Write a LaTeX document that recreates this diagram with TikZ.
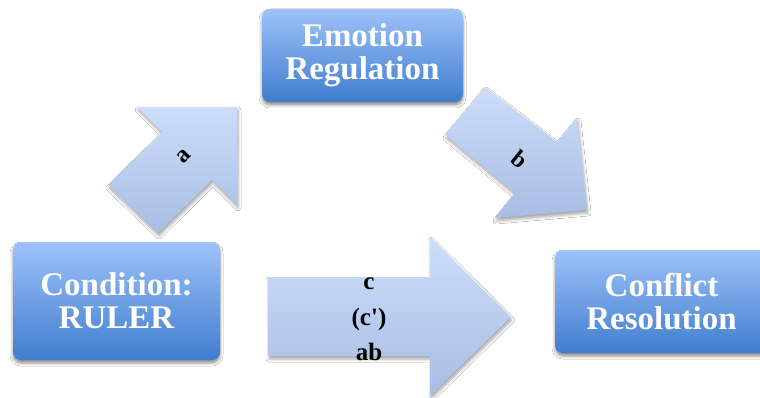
\documentclass[tikz,border=0pt]{standalone}
\usepackage{fontspec}
\setmainfont{Liberation Serif}
\usetikzlibrary{shadows.blur}
\definecolor{boxtop}{RGB}{157,194,250}
\definecolor{boxbot}{RGB}{64,125,206}
\definecolor{arrtop}{RGB}{204,222,250}
\definecolor{arrbot}{RGB}{168,189,228}
\tikzset{
  box/.style={rounded corners=8pt, top color=boxtop, bottom color=boxbot, draw=none,
    text=white, align=center, font=\bfseries\fontsize{33}{33}\selectfont,
    blur shadow={shadow xshift=0pt, shadow yshift=-3pt, shadow blur radius=3pt, shadow opacity=45},
    inner sep=0pt},
  blockarrow/.style={top color=arrtop, bottom color=arrbot, draw=none,
    blur shadow={shadow xshift=1pt, shadow yshift=-3pt, shadow blur radius=3pt, shadow opacity=35}},
  lbl/.style={font=\bfseries\fontsize{24}{26}\selectfont, text=black, inner sep=0pt},
  clbl/.style={font=\bfseries\fontsize{25}{26}\selectfont, text=black, inner sep=0pt}
}
\begin{document}
\begin{tikzpicture}[x=1pt,y=-1pt]
\fill[white] (0,0) rectangle (760,398);
\useasboundingbox (0,0) rectangle (760,398);
% arrows
\path[blockarrow] (237,107) -- (137,107) -- (162,132) -- (108,185) -- (158,233) -- (212,180) -- (237,205) -- cycle;
\path[blockarrow] (485,87) -- (557,142) -- (577,118) -- (587,210) -- (495,218) -- (515,193) -- (445,135) -- cycle;
\path[blockarrow] (268,277) -- (430,277) -- (430,237) -- (511,317) -- (430,396) -- (430,356) -- (268,356) -- cycle;
% labels
\node[lbl, rotate=45] (la) at (184,156) {a};
\node[lbl, rotate=-39] (lb) at (520,159) {b};
\node[clbl] (lc1) at (369,284) {c};
\node[clbl] (lc2) at (369,319) {(c\textquotesingle)};
\node[clbl] (lc3) at (369,352) {ab};
% boxes
\node[box, minimum width=207pt, minimum height=118pt] (cond) at (116.5,301) {Condition:\\RULER};
\node[box, minimum width=201pt, minimum height=93pt] (emo) at (362.5,55.5) {\raisebox{-2pt}{Emotion}\\\raisebox{-2pt}{Regulation}};
\node[box, minimum width=213pt, minimum height=103pt] (conf) at (661.5,301.5) {Conflict\\Resolution};
\end{tikzpicture}
\end{document}
